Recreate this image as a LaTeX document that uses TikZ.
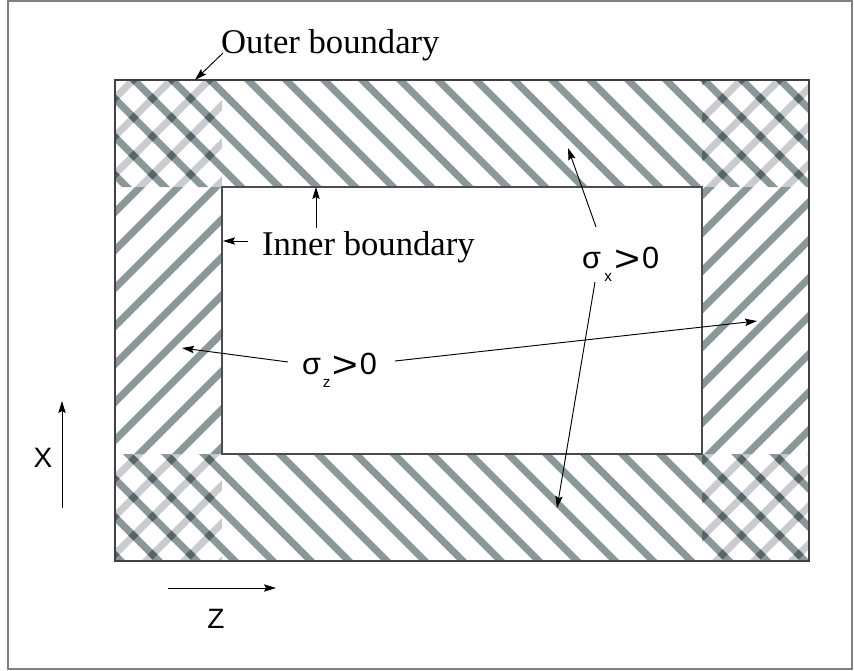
\documentclass[tikz,border=0pt]{standalone}
\usepackage{fontspec}
\setmainfont{Liberation Serif}
\newfontfamily\lsans{Liberation Sans}
\usetikzlibrary{arrows.meta}
\definecolor{stripedark}{RGB}{139,151,152}
\definecolor{stripelight}{RGB}{201,203,206}
\definecolor{stripeinter}{RGB}{88,100,101}
\begin{document}
\begin{tikzpicture}[x=0.75pt,y=-0.75pt,
  arr/.style={draw=black,line width=0.7pt,-{Stealth[length=9pt,width=5.5pt,inset=1.5pt]}},
  lbl/.style={anchor=base west,inner sep=0pt,outer sep=0pt,font=\fontsize{26}{30}\selectfont},
  sig/.style={anchor=base west,inner sep=0pt,outer sep=0pt,font=\lsans\fontsize{23}{26}\selectfont},
  axl/.style={inner sep=0pt,outer sep=0pt,font=\lsans\fontsize{21}{24}\selectfont},
  frameline/.style={draw=black!50,line width=1.1pt},
  outerline/.style={draw=black!75,line width=1pt},
  innerline/.style={draw=black!70,line width=0.8pt}]
\useasboundingbox (0,0) rectangle (854,671);
\draw[frameline] (8,1) rectangle (852,669);
% light "/" stripes in the corners
\begin{scope}
\clip (115,80) rectangle (222,187) (702,80) rectangle (809,187) (115,454) rectangle (222,561) (702,454) rectangle (809,561);
\fill[stripelight] foreach \k in {-4,...,28} {({327+38*\k-5},0) -- ({327+38*\k+5},0) -- ({327+38*\k+5-700},700) -- ({327+38*\k-5-700},700) -- cycle};
\end{scope}
% dark "\" stripes in the top and bottom bands
\begin{scope}
\clip (115,80) rectangle (809,187) (115,454) rectangle (809,561);
\fill[stripedark] foreach \k in {-16,...,16} {({130+38*\k-5},0) -- ({130+38*\k+5},0) -- ({830+38*\k+5},700) -- ({830+38*\k-5},700) -- cycle};
\end{scope}
% crossings in the corners
\begin{scope}
\clip (115,80) rectangle (222,187) (702,80) rectangle (809,187) (115,454) rectangle (222,561) (702,454) rectangle (809,561);
\clip foreach \k in {-4,...,28} {({327+38*\k-5},0) -- ({327+38*\k+5},0) -- ({327+38*\k+5-700},700) -- ({327+38*\k-5-700},700) -- cycle};
\fill[stripeinter] foreach \k in {-16,...,16} {({130+38*\k-5},0) -- ({130+38*\k+5},0) -- ({830+38*\k+5},700) -- ({830+38*\k-5},700) -- cycle};
\end{scope}
% dark "/" stripes in the left and right bands
\begin{scope}
\clip (115,187) rectangle (222,454) (702,187) rectangle (809,454);
\fill[stripedark] foreach \k in {-4,...,28} {({327+38*\k-5},0) -- ({327+38*\k+5},0) -- ({327+38*\k+5-700},700) -- ({327+38*\k-5-700},700) -- cycle};
\end{scope}
% boundaries
\draw[outerline] (115,80) rectangle (809,561);
\draw[innerline] (222,187) rectangle (702,454);
% labels
\node[lbl] (outerlbl) at (221,53) {Outer boundary};
\node[lbl] (innerlbl) at (262,255) {Inner boundary};
\node[sig] (sigx) at (582,268) {σ\kern2.5pt\raisebox{-9.75pt}{\fontsize{11.5}{12}\selectfont x}\kern1.6pt\raisebox{-2.6pt}{\scalebox{1.45}[1.2]{>}}\kern1.5pt0};
\node[sig] (sigz) at (302,374) {σ\kern1.5pt\raisebox{-9.75pt}{\fontsize{11.5}{12}\selectfont z}\kern1pt\raisebox{-2.6pt}{\scalebox{1.45}[1.2]{>}}\kern1.5pt0};
\node[axl] (xlbl) at (43,458) {X};
\node[axl] (zlbl) at (216,619) {Z};
% arrow ends
\coordinate (otail) at (223,53);
\coordinate (otip) at (195,80);
\coordinate (iuptail) at (316,228);
\coordinate (iuptip) at (316,187);
\coordinate (ilefttail) at (248,241);
\coordinate (ilefttip) at (223,241);
\coordinate (zltail) at (288,362);
\coordinate (zltip) at (182,348);
\coordinate (zrtail) at (395,361);
\coordinate (zrtip) at (757,321);
\coordinate (xutail) at (596,227);
\coordinate (xutip) at (568,148);
\coordinate (xdtail) at (595,282);
\coordinate (xdtip) at (557,508);
\coordinate (xaxtail) at (62,508);
\coordinate (xaxtip) at (62,401);
\coordinate (zaxtail) at (168,588);
\coordinate (zaxtip) at (276,588);
% arrows
\draw[arr] (otail) -- (otip);
\draw[arr] (iuptail) -- (iuptip);
\draw[arr] (ilefttail) -- (ilefttip);
\draw[arr] (zltail) -- (zltip);
\draw[arr] (zrtail) -- (zrtip);
\draw[arr] (xutail) -- (xutip);
\draw[arr] (xdtail) -- (xdtip);
\draw[arr] (xaxtail) -- (xaxtip);
\draw[arr] (zaxtail) -- (zaxtip);
\end{tikzpicture}
\end{document}
